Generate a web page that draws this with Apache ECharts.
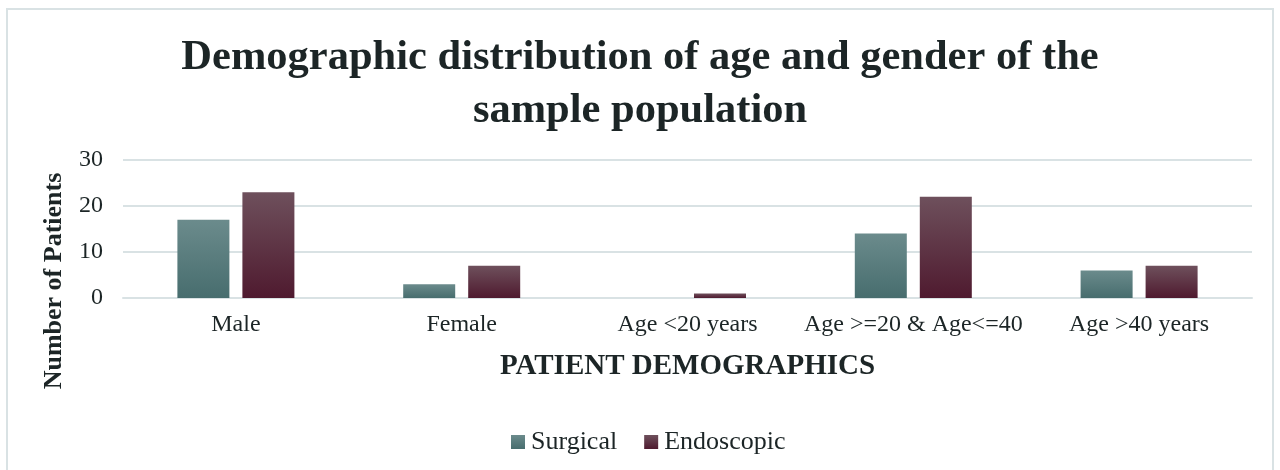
<!DOCTYPE html>
<html><head><meta charset="utf-8">
<script src="https://cdn.jsdelivr.net/npm/echarts@6/dist/echarts.min.js"></script>
<style>html,body{margin:0;padding:0;background:#fff}#c{width:1280px;height:470px}</style>
</head><body><div id="c"></div>
<script>
const categories = ['Male', 'Female', 'Age <20 years', 'Age >=20 & Age<=40', 'Age >40 years'];
const surgical = [17, 3, 0, 14, 6];
const endoscopic = [23, 7, 1, 22, 7];
const yTicks = [0, 10, 20, 30];

const F = '"Liberation Serif", "Times New Roman", serif';
const TXT = '#1c2526';
const chart = echarts.init(document.getElementById('c'));
const grad = (a, b) => new echarts.graphic.LinearGradient(0, 0, 0, 1, [{offset: 0, color: a}, {offset: 1, color: b}]);
chart.setOption({
  backgroundColor: '#fff',
  graphic: [{type: 'rect', shape: {x: 7, y: 9, width: 1266, height: 470}, style: {fill: 'none', stroke: '#d9e2e4', lineWidth: 2}, silent: true}],
  title: {
    text: 'Demographic distribution of age and gender of the\nsample population',
    left: 'center', top: 27,
    textStyle: {fontFamily: F, fontWeight: 'bold', fontSize: 42.5, color: TXT, lineHeight: 53}
  },
  legend: {
    top: 424, left: 506, itemWidth: 14, itemHeight: 14, itemGap: 27,
    icon: 'rect',
    textStyle: {fontFamily: F, fontSize: 26, color: TXT, padding: [0, 0, 0, 1]},
    data: ['Surgical', 'Endoscopic']
  },
  grid: {left: 123, right: 28, top: 160, bottom: 172},
  xAxis: {
    type: 'category', data: categories,
    name: 'PATIENT DEMOGRAPHICS', nameLocation: 'middle', nameGap: 54,
    nameTextStyle: {fontFamily: F, fontWeight: 'bold', fontSize: 29, color: TXT},
    axisLine: {lineStyle: {color: '#d9e2e4', width: 2}},
    axisTick: {show: false},
    axisLabel: {fontFamily: F, fontSize: 24, color: TXT, margin: 15, interval: 0}
  },
  yAxis: {
    type: 'value', min: 0, max: 30, interval: 10,
    name: 'Number of Patients', nameLocation: 'middle', nameGap: 56,
    nameTextStyle: {fontFamily: F, fontWeight: 'bold', fontSize: 26, color: TXT, padding: [0, 104, 0, 0]},
    axisLabel: {fontFamily: F, fontSize: 24, color: TXT, margin: 20, formatter: v => yTicks.includes(v) ? String(v) : ''},
    splitLine: {lineStyle: {color: '#d9e2e4', width: 2}},
    axisLine: {show: false}, axisTick: {show: false}
  },
  series: [
    {name: 'Surgical', type: 'bar', data: surgical, barWidth: 52, barGap: '25%',
     itemStyle: {color: grad('#6b8b8c', '#476d6e')}},
    {name: 'Endoscopic', type: 'bar', data: endoscopic, barWidth: 52,
     itemStyle: {color: grad('#6e505c', '#4f1a2f')}}
  ]
});
</script></body></html>
